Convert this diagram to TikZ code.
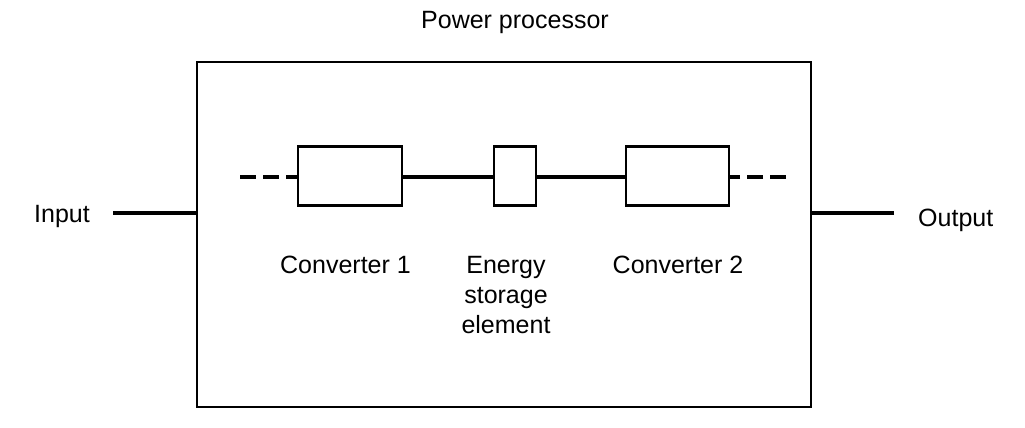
\documentclass[tikz,border=0pt]{standalone}
\usepackage{fontspec}
\setmainfont{Liberation Sans}
\begin{document}
\begin{tikzpicture}[x=1pt,y=-1pt,
  lbl/.style={font=\fontsize{25}{30}\selectfont, inner sep=0pt, anchor=base},
  block/.style={draw, line width=2.8pt, minimum height=59pt, inner sep=0pt},
  outerbox/.style={draw, line width=2.8pt, inner sep=0pt},
  wire/.style={line width=4pt},
  dwire/.style={line width=4pt, dash pattern=on 16pt off 7pt}]
\useasboundingbox (0,0) rectangle (1025,428);
\node[outerbox, minimum width=614pt, minimum height=345pt] (outer) at (504,234.5) {};
\node[block, minimum width=104pt] (c1) at (350,176) {};
\node[block, minimum width=42pt] (es) at (515,176) {};
\node[block, minimum width=103pt] (c2) at (677.5,176) {};
\coordinate (dl) at (240,177);
\coordinate (dr) at (786,177);
\coordinate (inA) at (113,213);
\coordinate (outA) at (894,213);
\draw[dwire] (dl) -- (dl -| c1.west);
\draw[wire] (c1.east |- dl) -- (dl -| es.west);
\draw[wire] (es.east |- dl) -- (dl -| c2.west);
\draw[dwire] (dr) -- (dr -| c2.east);
\draw[wire] (inA) -- (inA -| outer.west);
\draw[wire] (outA) -- (outA -| outer.east);
\node[lbl] (title) at (515,29) {Power processor};
\node[lbl, anchor=base east] (inlbl) at (90,222) {Input};
\node[lbl, anchor=base west] (outlbl) at (918,226) {Output};
\node[lbl] (l1) at (345.5,273) {Converter 1};
\node[lbl, align=center] (l2) at (506,333) {Energy\\storage\\element};
\node[lbl] (l3) at (678,273) {Converter 2};
\end{tikzpicture}
\end{document}
